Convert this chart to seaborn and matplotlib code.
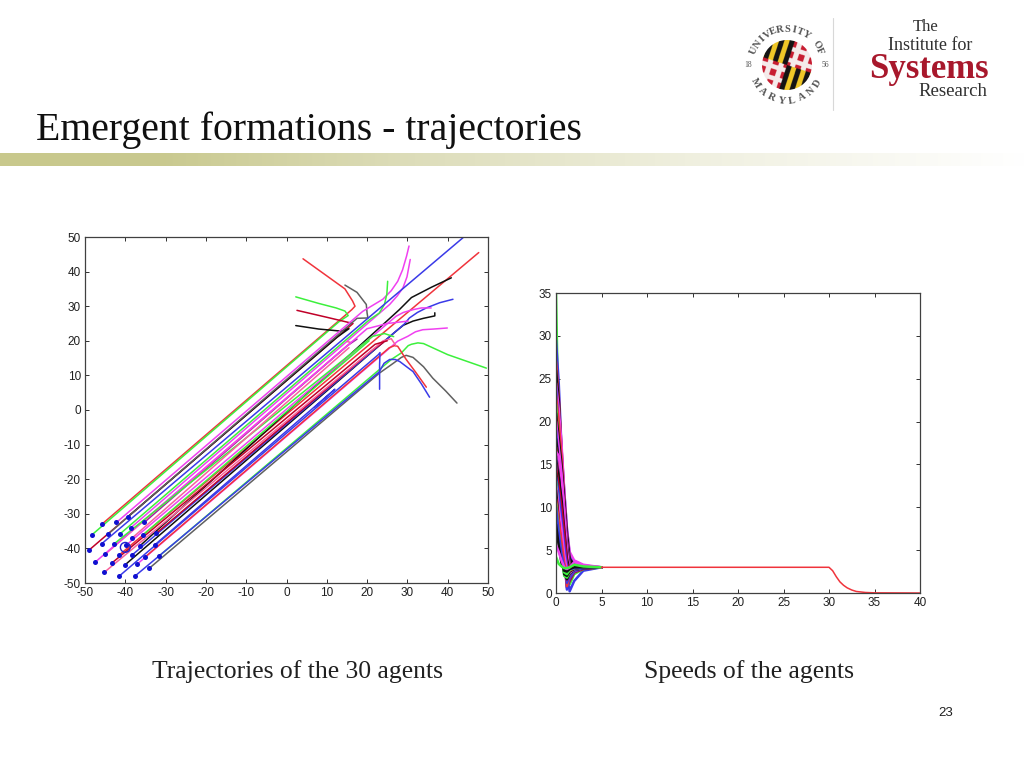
import numpy as np
import pandas as pd
import seaborn as sns
import matplotlib
matplotlib.use("Agg")
import matplotlib.pyplot as plt
from matplotlib.patches import Circle

sns.set_theme(style="white")
plt.rcParams["font.family"] = ["Liberation Sans", "DejaVu Sans"]

TITLE = "Emergent formations - trajectories"
CAPTION_LEFT = "Trajectories of the 30 agents"
CAPTION_RIGHT = "Speeds of the agents"
PAGE = "23"

xy_ticks = [-50, -40, -30, -20, -10, 0, 10, 20, 30, 40, 50]
t_ticks = [0, 5, 10, 15, 20, 25, 30, 35, 40]
v_ticks = [0, 5, 10, 15, 20, 25, 30, 35]

RED, GRN, BLU, BLK, MAG, DRD, PNK, GRY = ("#f0343c", "#3cf03c", "#3a3ae8", "#101010",
                                          "#f040f0", "#c00028", "#f8609c", "#606060")

# Each agent: waypoints, start dot first
traj_x = [
    [-45.7, 16.2, 17.0, 16.4, 14.5, 4.1],
    [-48.2, 13.0, 15.3, 14.5, 12.3, 8.0, 2.3],
    [-48.9, 16.5, 10.0, 2.6],
    [-39.3, 12.5, 15.5, 13.5, 8.0, 2.3],
    [-44.3, 17.5, 20.2, 20.0, 19.8, 17.5, 14.5],
    [-42.2, 18.9, 23.9, 26.0, 27.6, 28.8, 29.8, 30.4],
    [-38.6, 25.6, 27.5, 28.9, 29.9, 30.7],
    [-41.3, 20.6, 23.0, 24.3, 24.9, 25.1],
    [-45.9, 43.8],
    [-41.5, 47.7],
    [-36.3, 28.0, 31.0, 36.0, 40.9],
    [-40.1, 27.2, 29.0, 31.4, 34.0, 36.8, 36.8],
    [-38.3, 27.2, 29.2, 30.5, 32.5, 34.7, 38.0, 41.3],
    [-39.8, 27.2, 29.0, 31.4, 33.5, 35.9],
    [-37.1, 27.6, 30.1, 32.0, 33.8, 36.5, 39.9],
    [-31.6, 26.0, 28.5, 30.2, 31.0, 32.6, 34.0, 40.0, 49.6],
    [-34.0, 23.1, 26.5, 28.5, 29.7, 31.4, 34.0, 36.3, 39.5, 42.3],
    [-37.6, 23.0, 24.2, 25.6, 27.0, 28.1, 31.4, 33.5, 35.5],
    [-35.0, 24.0, 25.5, 26.8, 27.6, 29.7, 32.0, 34.7],
    [-41.5, 22.8, 23.2, 23.1, 23.1],
    [-35.3, 15.0, 17.5],
    [-45.0, 16.0, 15.0],
    [-47.5, 20.0, 25.0, 30.2],
    [-42.9, 21.4, 24.3, 26.6],
    [-38.3, 15.5],
    [-32.7, 12.0, 7.0],
    [-32.3, 21.0, 24.0],
    [-45.2, 24.0, 26.0, 27.2],
    [-43.4, 22.0, 25.0],
    [-35.5, 18.0, 20.5],
]
traj_y = [
    [-32.9, 29.0, 30.0, 31.5, 35.0, 43.7],
    [-36.0, 25.5, 27.3, 28.6, 29.5, 30.8, 32.7],
    [-40.4, 25.0, 26.8, 28.8],
    [-30.8, 21.0, 23.5, 22.8, 23.4, 24.4],
    [-35.9, 26.5, 26.6, 28.0, 30.5, 34.0, 36.1],
    [-32.5, 28.5, 32.0, 34.5, 37.2, 40.5, 44.5, 47.4],
    [-34.0, 30.5, 33.0, 35.3, 38.5, 43.5],
    [-35.8, 26.1, 28.0, 30.5, 33.5, 37.2],
    [-38.7, 49.8],
    [-41.9, 45.5],
    [-39.2, 29.0, 32.5, 35.5, 38.2],
    [-44.8, 22.8, 24.5, 25.7, 26.5, 27.2, 28.1],
    [-41.9, 22.8, 24.8, 26.6, 28.2, 29.5, 31.0, 32.0],
    [-39.1, 27.1, 28.2, 29.0, 29.5, 29.5],
    [-44.6, 19.9, 21.3, 22.6, 23.2, 23.4, 23.7],
    [-42.2, 14.6, 16.5, 18.6, 19.0, 19.4, 19.2, 16.0, 12.1],
    [-45.7, 10.7, 13.5, 15.2, 15.8, 15.2, 12.5, 9.2, 5.5, 2.0],
    [-48.0, 11.0, 13.5, 14.6, 14.6, 14.0, 11.1, 7.5, 3.7],
    [-42.4, 16.5, 18.0, 18.6, 18.4, 14.6, 11.0, 6.6],
    [-48.0, 16.0, 16.6, 13.0, 6.0],
    [-32.5, 18.5, 20.5],
    [-41.7, 19.5, 19.8],
    [-44.0, 23.5, 25.0, 25.7],
    [-38.8, 21.3, 22.1, 21.2],
    [-37.0, 18.0],
    [-39.0, 6.0, 0.8],
    [-35.6, 17.0, 19.5],
    [-46.9, 20.0, 20.6, 18.5],
    [-44.3, 19.0, 20.0],
    [-36.0, 17.5, 20.0],
]
traj_colors = [RED, GRN, DRD, BLK, GRY, MAG, MAG, GRN, BLU, RED, BLK, BLK, BLU, MAG, MAG,
               GRN, GRY, BLU, RED, BLU, "#a020a0", PNK, MAG, GRN, PNK, BLU, DRD, PNK, DRD, GRN]
leader_x, leader_y = [-40.0], [-39.7]

# Speed of each agent at the sampling times (early transient)
t_early = [0, 0.3, 0.6, 0.9, 1.2, 1.5, 2.0, 3.0, 5.0]
speed_rows = [
    [35.0, 18.0, 12.0, 7.0, 3.5, 2.2, 2.5, 2.9, 3.0],
    [29.5, 24.5, 17.0, 12.0, 7.5, 4.5, 3.6, 3.2, 3.0],
    [27.0, 23.0, 17.0, 11.5, 6.5, 3.8, 3.4, 3.1, 3.0],
    [26.0, 22.5, 16.5, 11.0, 6.0, 3.5, 3.0, 2.9, 3.0],
    [24.5, 21.5, 17.5, 12.0, 7.5, 4.8, 3.8, 3.3, 3.0],
    [24.0, 19.0, 13.0, 7.5, 2.5, 0.2, 1.4, 2.6, 3.0],
    [23.0, 20.0, 16.0, 11.0, 6.0, 3.0, 2.8, 2.9, 3.0],
    [22.0, 17.0, 11.5, 6.0, 1.2, 1.0, 2.2, 2.8, 3.0],
    [21.0, 18.0, 15.0, 11.0, 7.0, 4.0, 3.3, 3.0, 3.0],
    [20.5, 15.0, 10.0, 5.0, 0.6, 1.4, 2.4, 2.8, 3.0],
    [20.0, 17.0, 14.0, 10.0, 6.0, 3.2, 3.0, 3.0, 3.0],
    [19.0, 14.5, 9.5, 4.5, 0.4, 1.7, 2.5, 2.9, 3.0],
    [18.0, 15.5, 12.5, 9.0, 5.5, 3.0, 2.8, 2.9, 3.0],
    [17.0, 13.0, 8.0, 3.5, 0.8, 2.0, 2.6, 2.9, 3.0],
    [16.5, 16.0, 13.5, 9.5, 5.0, 2.6, 2.7, 2.9, 3.0],
    [16.0, 12.5, 8.5, 4.5, 1.2, 2.0, 2.6, 2.9, 3.0],
    [15.5, 13.5, 11.0, 7.5, 4.0, 2.6, 2.7, 2.9, 3.0],
    [15.0, 11.0, 7.0, 3.0, 1.5, 2.2, 2.7, 2.9, 3.0],
    [14.5, 12.5, 10.0, 7.0, 3.5, 2.4, 2.7, 2.9, 3.0],
    [14.0, 10.5, 6.5, 2.5, 1.6, 2.3, 2.7, 2.9, 3.0],
    [13.5, 11.5, 8.5, 5.5, 3.0, 2.4, 2.7, 2.9, 3.0],
    [13.0, 9.5, 5.5, 2.0, 1.8, 2.4, 2.8, 3.0, 3.0],
    [12.5, 10.0, 7.5, 4.5, 2.6, 2.4, 2.8, 3.0, 3.0],
    [12.0, 8.5, 5.0, 2.2, 2.0, 2.5, 2.8, 3.0, 3.0],
    [11.0, 8.5, 6.0, 3.5, 2.4, 2.6, 2.9, 3.0, 3.0],
    [10.5, 7.0, 4.0, 2.4, 2.2, 2.7, 2.9, 3.0, 3.0],
    [10.0, 7.0, 4.5, 3.0, 2.6, 2.8, 2.9, 3.0, 3.0],
    [8.0, 5.5, 3.5, 2.6, 2.5, 2.8, 3.0, 3.0, 3.0],
    [5.6, 4.8, 3.8, 3.0, 2.8, 3.0, 3.6, 3.2, 3.0],
    [4.2, 3.4, 3.1, 2.9, 2.9, 3.0, 3.3, 3.1, 3.0],
]
speed_colors = [GRN, BLU, RED, BLK, MAG, BLU, RED, GRN, BLK, DRD, MAG, BLU, BLK, RED, MAG,
                BLU, BLK, "#a020a0", DRD, BLK, BLU, GRN, MAG, BLK, RED, GRN, BLU, BLK, MAG, GRN]
# Common tail, all agents overlap
t_tail = [30.0, 30.4, 30.8, 31.2, 31.6, 32.0, 32.5, 33.0, 34.0, 35.0, 40.0]
v_tail = [3.0, 2.6, 1.9, 1.3, 0.9, 0.6, 0.35, 0.18, 0.06, 0.02, 0.0]

W, H = 1024, 768
fig = plt.figure(figsize=(W / 100, H / 100), dpi=100, facecolor="white")


def pix_axes(l, t, r, b, **kw):
    return fig.add_axes([l / W, 1 - b / H, (r - l) / W, (b - t) / H], **kw)


# page furniture in pixel coordinates
bg = fig.add_axes([0, 0, 1, 1], zorder=0)
bg.axis("off")
ramp = np.array([[200, 200, 140], [201, 201, 143], [220, 220, 184], [240, 240, 224], [255, 255, 255]])
stops = [0, 160, 400, 700, 1024]
grad = np.stack([np.interp(np.arange(W), stops, ramp[:, c]) for c in range(3)], axis=-1)[None] / 255
bg.imshow(grad, extent=(0, W, 166, 153), aspect="auto", zorder=1)

SERIF = ["Liberation Serif", "DejaVu Serif"]
bg.text(36, 130, TITLE, family=SERIF, fontsize=28.6, color="#101010", ha="left", va="center")
bg.text(298, 672, CAPTION_LEFT, family=SERIF, fontsize=16.6 * 290 / 261, color="#202020", ha="center", va="center")
bg.text(749, 672, CAPTION_RIGHT, family=SERIF, fontsize=16.6 * 290 / 261, color="#202020", ha="center", va="center")
bg.text(946, 713, PAGE, fontsize=9.5, color="#202020", ha="center", va="center")

# University seal: quartered arms, clipped to a disc and turned a little
cx, cy, R = 787, 65, 25
yy, xx = np.mgrid[-1:1:160j, -1:1:160j]
ang = np.deg2rad(-18)
u = xx * np.cos(ang) - yy * np.sin(ang)
v = xx * np.sin(ang) + yy * np.cos(ang)
YEL, BLK2, RD2, WHT = [np.array(c) / 255 for c in ((240, 200, 40), (20, 20, 20), (200, 30, 50), (245, 235, 235))]
seal = np.ones((160, 160, 3))
pale = (np.floor(u * 5) % 2 == 0)
diag = (u + v > 0)
cross = (np.abs(np.sin(u * 7)) > 0.75) | (np.abs(np.sin(v * 7)) > 0.8)
q_gold = (u * v > 0)
seal[q_gold & (pale ^ diag)] = YEL
seal[q_gold & ~(pale ^ diag)] = BLK2
seal[~q_gold & cross] = WHT
seal[~q_gold & ~cross] = RD2
im = bg.imshow(seal, extent=(cx - R, cx + R, cy + R, cy - R), aspect="auto", zorder=3)
im.set_clip_path(Circle((cx, cy), R, transform=bg.transData))
for word, a_mid, step, flip in [("UNIVERSITY OF", 90, 11.0, False), ("MARYLAND", 270, 17.0, True)]:
    for i, ch in enumerate(word):
        off = (i - (len(word) - 1) / 2) * step
        a = a_mid + off if flip else a_mid - off
        rad = np.deg2rad(a)
        bg.text(cx + 36 * np.cos(rad), cy - 36 * np.sin(rad), ch, family=SERIF, fontsize=7.5, color="#555555",
                fontweight="bold", rotation=a + 90 if flip else a - 90, ha="center", va="center")
bg.text(748, 65, "18", family=SERIF, fontsize=5.5, color="#555555", ha="center", va="center")
bg.text(825, 65, "56", family=SERIF, fontsize=5.5, color="#555555", ha="center", va="center")
bg.plot([833, 833], [18, 110], color="#d8d8d8", lw=0.8)

# Institute logo
bg.text(926, 27, "The", family=SERIF, fontsize=12, color="#303030", ha="center", va="center")
bg.text(930, 45, "Institute for", family=SERIF, fontsize=13, color="#303030", ha="center", va="center")
bg.text(929, 69, "Systems", family=SERIF, fontsize=25, color="#a8182c", fontweight="bold", ha="center", va="center")
bg.text(953, 92, "Research", family=SERIF, fontsize=13.5, color="#303030", ha="center", va="center")
bg.set_xlim(0, W)
bg.set_ylim(H, 0)


def style(ax, xt, yt):
    ax.set_xticks(xt)
    ax.set_yticks(yt)
    ax.set_xticklabels([str(v) for v in xt])
    ax.set_yticklabels([str(v) for v in yt])
    ax.tick_params(axis="both", direction="in", length=3, width=0.7, top=True, right=True, bottom=True, left=True,
                   labelsize=8.5, labelcolor="#202020", color="#303030", pad=3)
    for s in ax.spines.values():
        s.set_visible(True)
        s.set_color("#404040")
        s.set_linewidth(0.9)
    ax.set_xlabel("")
    ax.set_ylabel("")


# Left panel: trajectories
ax1 = pix_axes(85, 237, 488, 583, zorder=2)
for xs, ys, c in zip(traj_x, traj_y, traj_colors):
    sns.lineplot(x=xs, y=ys, sort=False, estimator=None, color=c, lw=1.1, ax=ax1)
starts = pd.DataFrame({"x": [xs[0] for xs in traj_x], "y": [ys[0] for ys in traj_y]})
sns.scatterplot(data=starts, x="x", y="y", color="#1010d0", s=13, linewidth=0, ax=ax1, zorder=5, clip_on=False)
sns.scatterplot(x=leader_x, y=leader_y, s=50, facecolor="none", edgecolor="#2020d0", linewidth=1.0, ax=ax1, zorder=5)
ax1.set_xlim(-50, 50)
ax1.set_ylim(-50, 50)
style(ax1, xy_ticks, xy_ticks)

# Right panel: speeds
ax2 = pix_axes(556, 293, 920, 593, zorder=2)
for row, c in zip(speed_rows, speed_colors):
    sns.lineplot(x=t_early, y=row, sort=False, estimator=None, color=c, lw=1.8, ax=ax2)
flat_t = [t_early[-1]] + t_tail
flat_v = [3.0] + v_tail
sns.lineplot(x=flat_t, y=flat_v, sort=False, estimator=None, color=RED, lw=1.1, ax=ax2)
ax2.set_xlim(0, 40)
ax2.set_ylim(0, 35)
style(ax2, t_ticks, v_ticks)

fig.savefig("out.png", dpi=100, facecolor="white")
